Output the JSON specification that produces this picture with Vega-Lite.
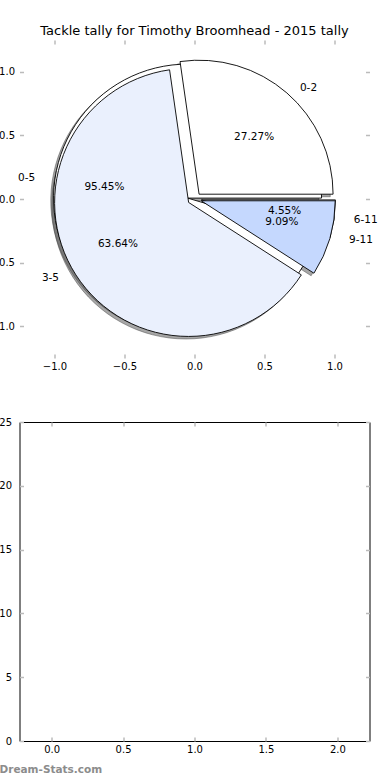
{
  "$schema": "https://vega.github.io/schema/vega-lite/v6.json",
  "background": "white",
  "padding": {"left": -10.5, "top": 24, "right": 0, "bottom": 0},
  "bounds": "flush",
  "spacing": 64,
  "config": {
    "font": "DejaVu Sans",
    "axis": {
      "domain": false, "grid": false, "title": null,
      "tickColor": "#bbbbbb", "tickSize": -4, "tickWidth": 1.5,
      "labelFont": "DejaVu Sans", "labelFontSize": 10, "labelColor": "black",
      "labelPadding": 8, "labelFlush": false, "labelOverlap": false
    },
    "text": {"font": "DejaVu Sans", "fontSize": 10.5, "color": "black"}
  },
  "vconcat": [
    {
      "width": 350, "height": 318,
      "view": {"stroke": null},
      "title": {"text": "Tackle tally for Timothy Broomhead - 2015 tally", "fontSize": 13, "fontWeight": "normal", "font": "DejaVu Sans", "color": "black", "anchor": "middle", "offset": 1.5},
      "data": {"values": [
        {"pie": "B", "k": 1, "label": "0-5", "pct": 95.45},
        {"pie": "B", "k": 2, "label": "6-11", "pct": 4.55},
        {"pie": "A", "k": 1, "label": "0-2", "pct": 27.27},
        {"pie": "A", "k": 2, "label": "3-5", "pct": 63.64},
        {"pie": "A", "k": 3, "label": "9-11", "pct": 9.09}
      ]},
      "transform": [
        {"stack": "pct", "groupby": ["pie"], "sort": [{"field": "k"}], "as": ["start", "end"]},
        {"calculate": "2 * PI * (datum.start + datum.end) / 200", "as": "mid"},
        {"calculate": "0.05 * cos(datum.mid)", "as": "cx"},
        {"calculate": "0.05 * sin(datum.mid)", "as": "cy"},
        {"calculate": "datum.cx - 0.02", "as": "sx"},
        {"calculate": "datum.cy - 0.02", "as": "sy"},
        {"calculate": "datum.cx + 1.1 * cos(datum.mid)", "as": "lx"},
        {"calculate": "datum.cy + 1.1 * sin(datum.mid)", "as": "ly"},
        {"calculate": "datum.cx + 0.6 * cos(datum.mid)", "as": "px"},
        {"calculate": "datum.cy + 0.6 * sin(datum.mid)", "as": "py"},
        {"calculate": "format(datum.pct, '.2f') + '%'", "as": "ptxt"}
      ],
      "layer": [
        {
          "mark": {"type": "arc", "radius": 134, "fill": "#4d4d4d", "fillOpacity": 0.5, "stroke": "#4d4d4d", "strokeOpacity": 0.5, "strokeWidth": 1},
          "encoding": {
            "x": {"field": "sx", "type": "quantitative", "scale": {"domain": [-1.25, 1.25], "nice": false, "zero": false},
                  "axis": {"orient": "bottom", "values": [-1, -0.5, 0, 0.5, 1], "format": ".1f", "labelPadding": 7}},
            "y": {"field": "sy", "type": "quantitative", "scale": {"domain": [-1.25, 1.25], "nice": false, "zero": false},
                  "axis": {"orient": "left", "values": [-1, -0.5, 0, 0.5, 1], "format": ".1f", "labelPadding": 9}},
            "theta": {"field": "start", "type": "quantitative", "stack": null, "scale": {"domain": [0, 100], "range": [1.5707963, -4.712389]}},
            "theta2": {"field": "end"}
          }
        },
        {
          "mark": {"type": "arc", "radius": 134, "stroke": "black", "strokeWidth": 0.9},
          "encoding": {
            "x": {"field": "cx", "type": "quantitative", "scale": {"domain": [-1.25, 1.25], "nice": false, "zero": false},
                  "axis": {"orient": "top", "values": [-1, -0.5, 0, 0.5, 1], "labels": false}},
            "y": {"field": "cy", "type": "quantitative", "scale": {"domain": [-1.25, 1.25], "nice": false, "zero": false},
                  "axis": {"orient": "right", "values": [-1, -0.5, 0, 0.5, 1], "labels": false}},
            "theta": {"field": "start", "type": "quantitative", "stack": null, "scale": {"domain": [0, 100], "range": [1.5707963, -4.712389]}},
            "theta2": {"field": "end"},
            "color": {"field": "label", "type": "nominal", "legend": null,
                      "scale": {"domain": ["0-5", "6-11", "0-2", "3-5", "9-11"], "range": ["#ffffff", "#eaf0fd", "#ffffff", "#eaf0fd", "#c5d8fe"]}}
          }
        },
        {
          "transform": [{"filter": "datum.lx > 0"}],
          "mark": {"type": "text", "align": "left", "baseline": "middle"},
          "encoding": {
            "x": {"field": "lx", "type": "quantitative", "scale": {"domain": [-1.25, 1.25], "nice": false, "zero": false}, "axis": null},
            "y": {"field": "ly", "type": "quantitative", "scale": {"domain": [-1.25, 1.25], "nice": false, "zero": false}, "axis": null},
            "text": {"field": "label"}
          }
        },
        {
          "transform": [{"filter": "datum.lx <= 0"}],
          "mark": {"type": "text", "align": "right", "baseline": "middle"},
          "encoding": {
            "x": {"field": "lx", "type": "quantitative", "scale": {"domain": [-1.25, 1.25], "nice": false, "zero": false}, "axis": null},
            "y": {"field": "ly", "type": "quantitative", "scale": {"domain": [-1.25, 1.25], "nice": false, "zero": false}, "axis": null},
            "text": {"field": "label"}
          }
        },
        {
          "mark": {"type": "text", "align": "center", "baseline": "middle"},
          "encoding": {
            "x": {"field": "px", "type": "quantitative", "scale": {"domain": [-1.25, 1.25], "nice": false, "zero": false}, "axis": null},
            "y": {"field": "py", "type": "quantitative", "scale": {"domain": [-1.25, 1.25], "nice": false, "zero": false}, "axis": null},
            "text": {"field": "ptxt"}
          }
        }
      ],
      "resolve": {"axis": {"x": "independent", "y": "independent"}}
    },
    {
      "width": 350, "height": 319,
      "view": {"stroke": "black", "strokeWidth": 1},
      "title": {"text": "Dream-Stats.com", "orient": "bottom", "anchor": "start", "frame": "group", "fontSize": 10.5, "fontWeight": "bold", "font": "DejaVu Sans", "color": "#8c8c8c", "dx": -20, "offset": 11},
      "data": {"values": []},
      "layer": [
        {
          "mark": "point",
          "encoding": {
            "x": {"field": "x", "type": "quantitative", "scale": {"domain": [-0.225, 2.225], "nice": false, "zero": false},
                  "axis": {"orient": "bottom", "values": [0, 0.5, 1, 1.5, 2], "format": ".1f", "labelPadding": 7}},
            "y": {"field": "y", "type": "quantitative", "scale": {"domain": [0, 25], "nice": false, "zero": false},
                  "axis": {"orient": "left", "values": [0, 5, 10, 15, 20, 25], "format": "d", "labelPadding": 12}}
          }
        },
        {
          "mark": "point",
          "encoding": {
            "x": {"field": "x", "type": "quantitative", "scale": {"domain": [-0.225, 2.225], "nice": false, "zero": false},
                  "axis": {"orient": "top", "values": [0, 0.5, 1, 1.5, 2], "labels": false}},
            "y": {"field": "y", "type": "quantitative", "scale": {"domain": [0, 25], "nice": false, "zero": false},
                  "axis": {"orient": "right", "values": [0, 5, 10, 15, 20, 25], "labels": false}}
          }
        }
      ],
      "resolve": {"axis": {"x": "independent", "y": "independent"}}
    }
  ]
}
